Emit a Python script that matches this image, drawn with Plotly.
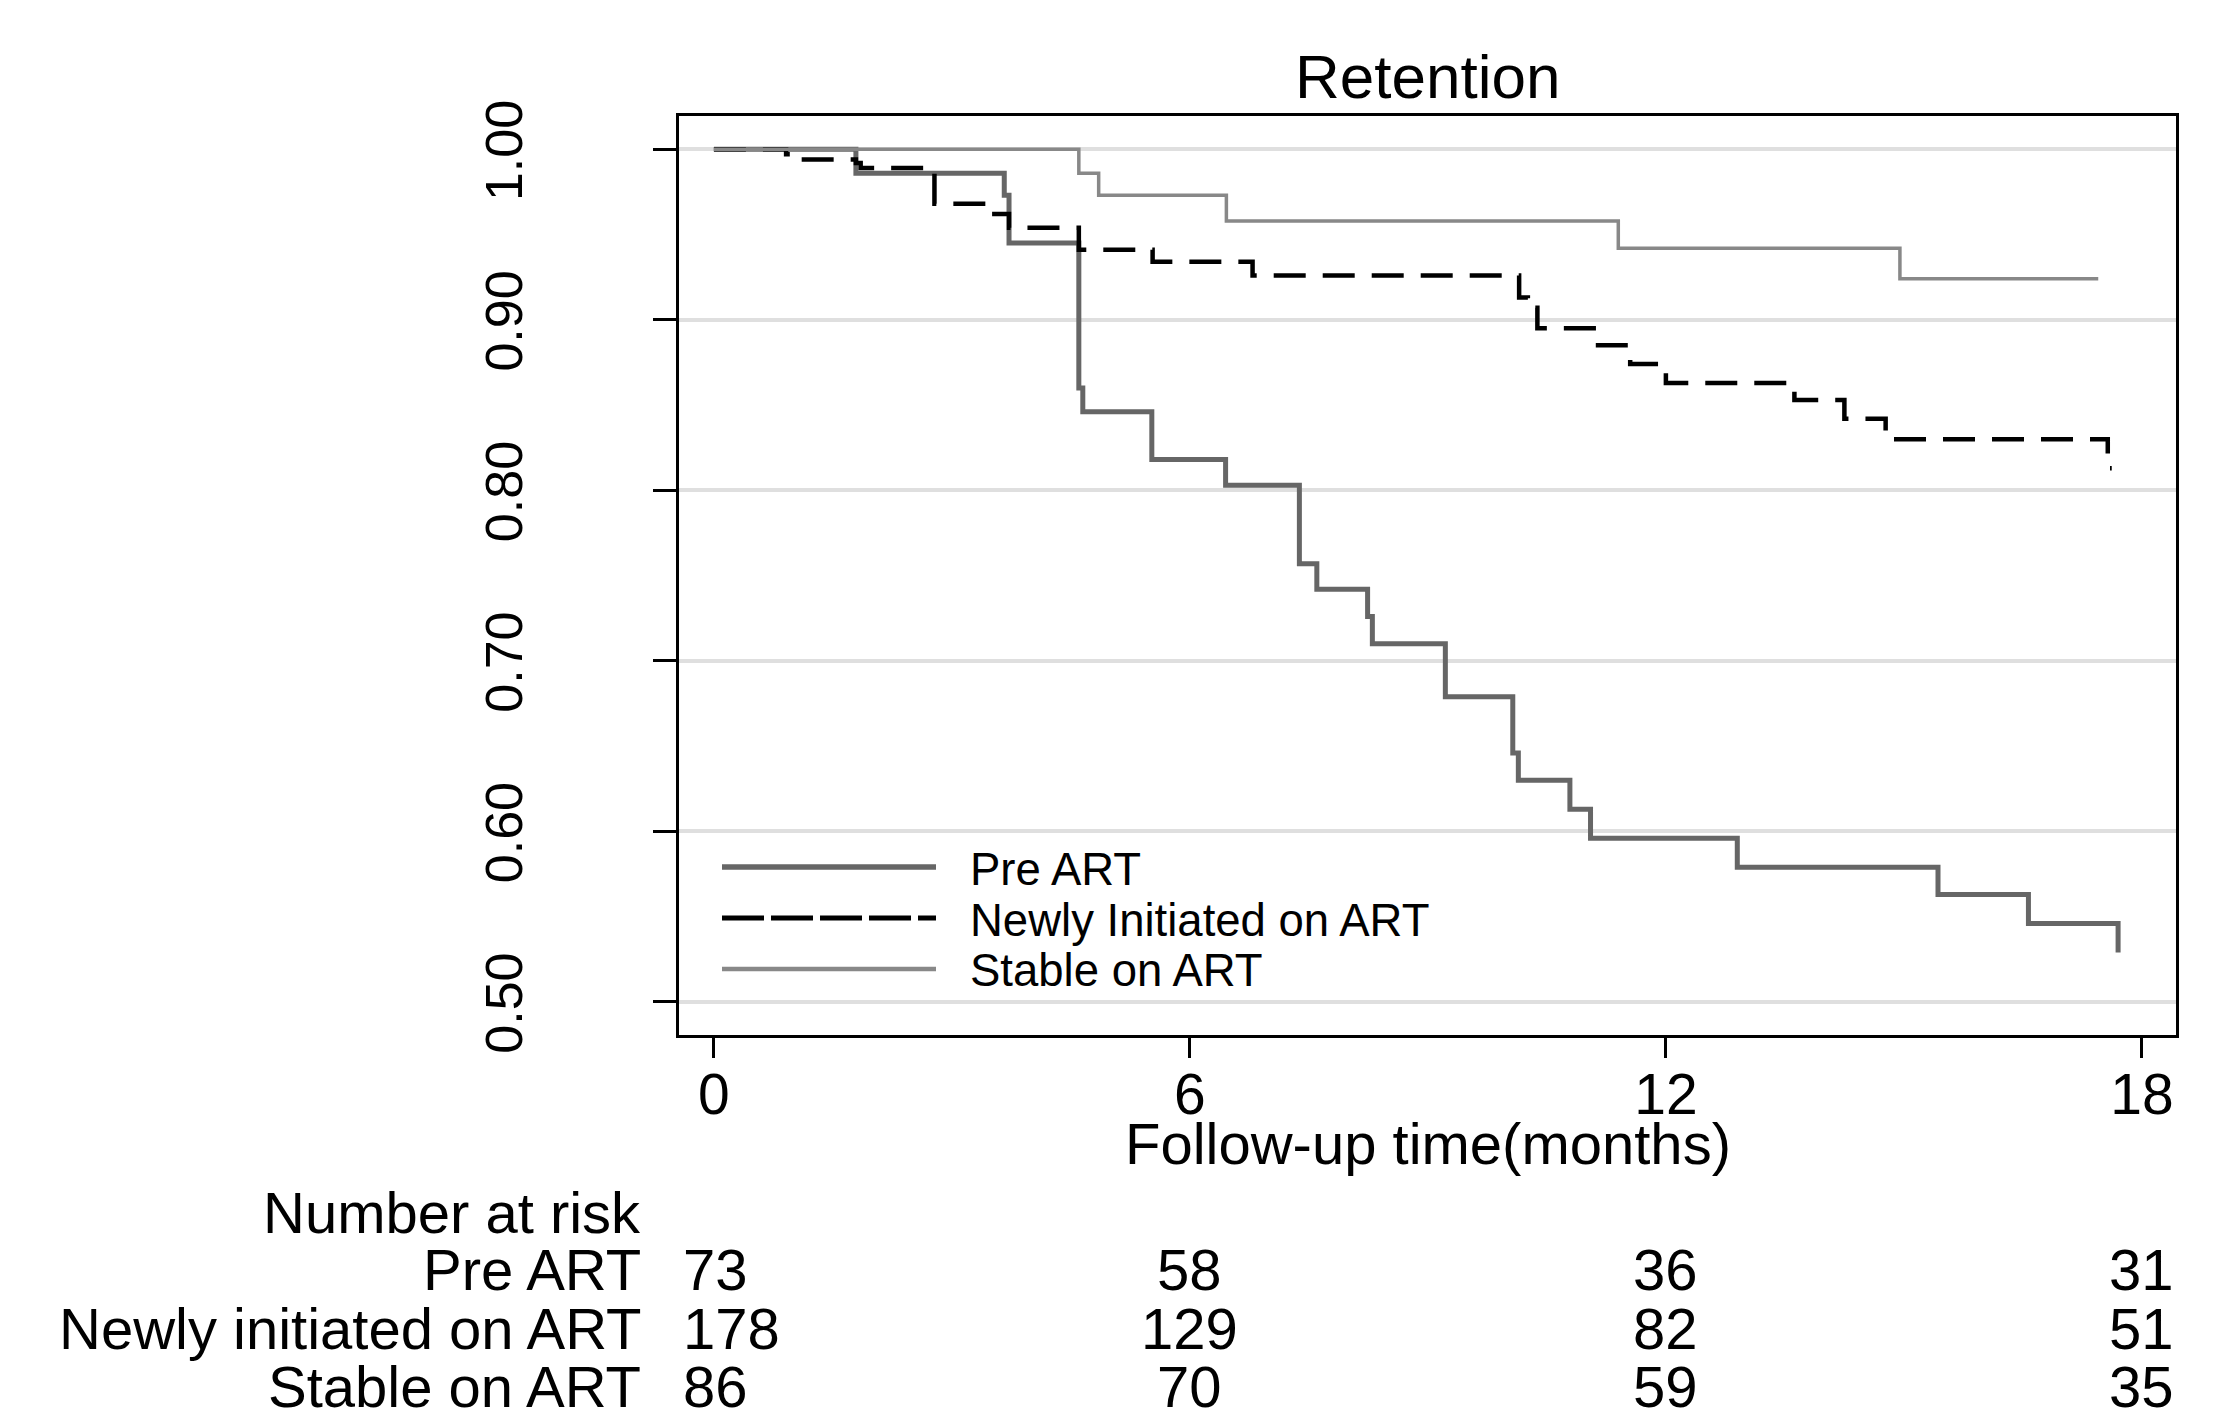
import plotly.graph_objects as go

# ---- data ----
pre_t = [0, 1.79, 3.66, 3.72, 4.60, 4.65, 5.52, 6.45, 7.38, 7.60, 8.24, 8.30, 9.22, 10.07, 10.14, 10.79, 11.05, 12.90, 15.43, 16.57, 17.70]
pre_s = [1.0, 0.986, 0.973, 0.945, 0.860, 0.846, 0.818, 0.803, 0.757, 0.742, 0.726, 0.710, 0.679, 0.646, 0.630, 0.613, 0.596, 0.579, 0.563, 0.546, 0.529]

new_t = [0, 0.91, 1.05, 1.79, 1.85, 2.78, 3.46, 3.72, 4.60, 5.53, 6.79, 10.15, 10.26, 10.38, 11.09, 11.55, 12.00, 13.62, 14.25, 14.77, 17.57, 17.62]
new_s = [1.0, 0.997, 0.994, 0.992, 0.989, 0.968, 0.962, 0.954, 0.941, 0.934, 0.926, 0.913, 0.907, 0.895, 0.885, 0.874, 0.863, 0.853, 0.842, 0.830, 0.813, 0.813]

st_t = [0, 4.60, 4.85, 6.46, 11.40, 14.95, 17.45]
st_s = [1.0, 0.986, 0.973, 0.958, 0.942, 0.924, 0.924]

series_names = ["Pre ART", "Newly Initiated on ART", "Stable on ART"]
risk_labels = ["Pre ART", "Newly initiated on ART", "Stable on ART"]
risk_times = [0, 6, 12, 18]
risk_pre = [73, 58, 36, 31]
risk_new = [178, 129, 82, 51]
risk_stable = [86, 70, 59, 35]

x_ticks = [0, 6, 12, 18]
y_ticks = [0.5, 0.6, 0.7, 0.8, 0.9, 1.0]
y_ticktext = ["0.50", "0.60", "0.70", "0.80", "0.90", "1.00"]

FONT = "Liberation Sans, Arial, sans-serif"
C_PRE = "#666666"
C_NEW = "#000000"
C_ST = "#888888"

fig = go.Figure()
fig.add_trace(go.Scatter(x=pre_t, y=pre_s, mode="lines", line=dict(shape="hv", color=C_PRE, width=5),
                         name=series_names[0], showlegend=False))
fig.add_trace(go.Scatter(x=new_t, y=new_s, mode="lines", line=dict(shape="hv", color=C_NEW, width=4.5, dash="32px,17px"),
                         name=series_names[1], showlegend=False))
fig.add_trace(go.Scatter(x=st_t, y=st_s, mode="lines", line=dict(shape="hv", color=C_ST, width=3.5),
                         name=series_names[2], showlegend=False))

# page body has an 8px margin: shrink the figure and shift the plot accordingly
OFF = 8
W, H = 2223 - OFF, 1411 - OFF
PL, PR, PT, PB = 679, 2176, 116, 1035  # plot box in reference pixels
PW, PH = PR - PL, PB - PT
L, T = PL - OFF, PT - OFF
R, B = W - L - PW, H - T - PH


def px(xp):
    return (xp - PL) / PW


def py(yp):
    return (PB - yp) / PH


shapes = []
# white legend background hiding gridlines
shapes.append(dict(type="rect", xref="x", yref="y", x0=-0.227, x1=9.53, y0=0.483, y1=0.6186,
                   fillcolor="white", line=dict(width=0), layer="below"))
leg_y = [867, 918, 969]
leg_styles = [dict(color=C_PRE, width=5.5), dict(color=C_NEW, width=5, dash="42px,7px"), dict(color=C_ST, width=4.5)]
for yy, st in zip(leg_y, leg_styles):
    shapes.append(dict(type="line", xref="paper", yref="paper", x0=px(722), x1=px(936), y0=py(yy), y1=py(yy),
                       line=st, layer="above"))

ann = []
leg_text_y = [869.5, 920.7, 970.7]
for name, yy in zip(series_names, leg_text_y):
    ann.append(dict(text=name, xref="paper", yref="paper", x=px(968), y=py(yy), xanchor="left", yanchor="middle",
                    showarrow=False, font=dict(family=FONT, size=45.5, color="black")))

ann.append(dict(text="Retention", xref="paper", yref="paper", x=0.5, y=py(76.3), xanchor="center", yanchor="middle",
                showarrow=False, font=dict(family=FONT, size=62, color="black")))
ann.append(dict(text="Follow-up time(months)", xref="paper", yref="paper", x=0.5, y=py(1143), xanchor="center",
                yanchor="middle", showarrow=False, font=dict(family=FONT, size=58, color="black")))
ann.append(dict(text="Number at risk", xref="paper", yref="paper", x=px(643), y=py(1212), xanchor="right",
                yanchor="middle", showarrow=False, font=dict(family=FONT, size=58, color="black")))

row_y = [1270, 1328, 1386]
for lab, vals, yy in zip(risk_labels, [risk_pre, risk_new, risk_stable], row_y):
    ann.append(dict(text=lab, xref="paper", yref="paper", x=px(643), y=py(yy), xanchor="right", yanchor="middle",
                    showarrow=False, font=dict(family=FONT, size=58, color="black")))
    for i, (t, v) in enumerate(zip(risk_times, vals)):
        if i == 0:
            ann.append(dict(text=str(v), xref="x", yref="paper", x=t, y=py(yy), xanchor="left", xshift=-33,
                            yanchor="middle", showarrow=False, font=dict(family=FONT, size=58, color="black")))
        else:
            ann.append(dict(text=str(v), xref="x", yref="paper", x=t, y=py(yy), xanchor="center",
                            yanchor="middle", showarrow=False, font=dict(family=FONT, size=58, color="black")))

fig.update_layout(
    width=W, height=H, autosize=False,
    margin=dict(l=L, r=R, t=T, b=B, pad=0),
    paper_bgcolor="white", plot_bgcolor="white",
    font=dict(family=FONT, color="black"),
    shapes=shapes, annotations=ann,
    showlegend=False,
)
fig.update_xaxes(range=[-0.44, 18.43], tickvals=x_ticks, ticktext=[str(v) for v in x_ticks],
                 showgrid=False, zeroline=False, showline=True, linecolor="black", linewidth=3, mirror=True,
                 ticks="outside", ticklen=20, tickwidth=2.5, tickcolor="black", ticklabelstandoff=-12,
                 tickfont=dict(family=FONT, size=57, color="black"))
fig.update_yaxes(range=[0.4806, 1.0195], tickvals=y_ticks, ticktext=y_ticktext, tickangle=-90,
                 showgrid=True, gridcolor="#dfdfdf", gridwidth=4, zeroline=False,
                 showline=True, linecolor="black", linewidth=3, mirror=True,
                 ticks="outside", ticklen=23, tickwidth=3, tickcolor="black", ticklabelstandoff=110,
                 ticklabelshift=9,
                 tickfont=dict(family=FONT, size=52, color="black"))

fig.write_html("out.html")
